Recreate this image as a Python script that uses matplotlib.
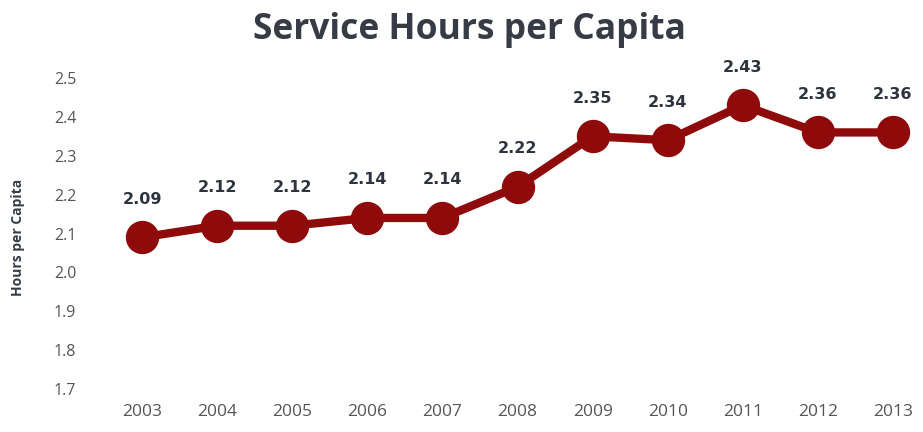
import numpy as np
from matplotlib import pyplot as plt

years = [2003, 2004, 2005, 2006, 2007, 2008, 2009, 2010, 2011, 2012, 2013]
hours = [2.09, 2.12, 2.12, 2.14, 2.14, 2.22, 2.35, 2.34, 2.43, 2.36, 2.36]
y_ticks = [1.7, 1.8, 1.9, 2.0, 2.1, 2.2, 2.3, 2.4, 2.5]

red = '#8f0a0a'
grey = '#555555'

fig = plt.figure(figsize=(9.23, 4.32), dpi=100)
ax = fig.add_axes([97/923, 1 - 389/432, 826/923, (389 - 78)/432])

ax.plot(years, hours, color=red, linewidth=6, marker='o', markersize=23,
        markerfacecolor=red, markeredgecolor=red, clip_on=False, zorder=3)

for x, y in zip(years, hours):
    ax.annotate('%.2f' % y, (x, y), xytext=(0, 22), textcoords='offset points',
                ha='center', va='bottom', fontsize=11.5, fontweight='bold',
                color='#2e343e', family='DejaVu Sans')

ax.set_xlim(2002.4, 2013.4)
ax.set_ylim(1.7, 2.5)
ax.set_xticks(years)
ax.set_yticks(y_ticks)
ax.set_yticklabels(['%.1f' % t for t in y_ticks])
ax.tick_params(length=0, colors=grey)
ax.tick_params(axis='x', pad=11, labelsize=12.5)
ax.tick_params(axis='y', pad=15, labelsize=11.5)
for lbl in ax.get_xticklabels() + ax.get_yticklabels():
    lbl.set_family('Open Sans')
for s in ax.spines.values():
    s.set_visible(False)

fig.text(469/923, 1 - 30/432, 'Service Hours per Capita', ha='center', va='center',
         fontsize=25.5, fontweight='bold', color='#363b46', family='Open Sans')
fig.text(18/923, 1 - 237/432, 'Hours per Capita', rotation=90, ha='center', va='center',
         fontsize=10, fontweight='bold', color='#363b46', family='Open Sans')

fig.savefig('out.png', dpi=100)
